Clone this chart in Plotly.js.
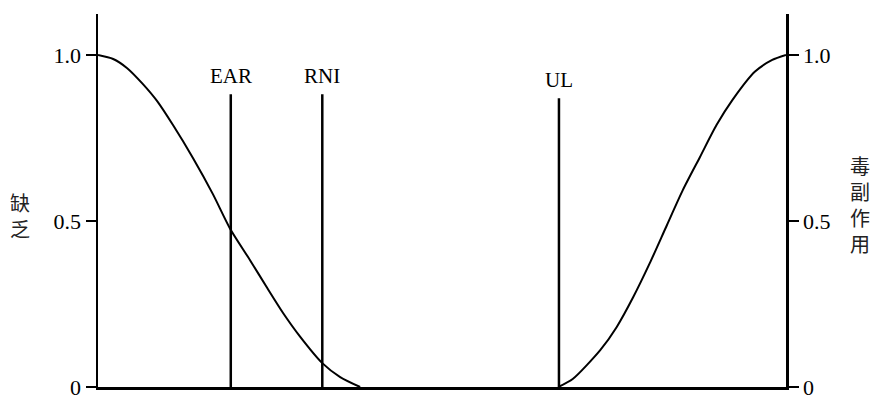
<!DOCTYPE html>
<html>
<head>
<meta charset="utf-8">
<script src="https://cdn.plot.ly/plotly-3.0.1.min.js"></script>
<style>html,body{margin:0;padding:0;background:#fff;}#chart{width:872px;height:395px;}</style>
</head>
<body>
<div id="chart"></div>
<script>
// Intake (arbitrary units, 0 = left axis, 100 = right axis)
const deficiencyX = [0, 2.2, 4.2, 6.5, 8.6, 10.9, 13.8, 16.7, 19.2, 22.1, 24.6, 26.9, 29.4, 32.6, 35.2, 38.1];
const deficiencyY = [1.0, 0.988, 0.961, 0.913, 0.861, 0.789, 0.690, 0.581, 0.477, 0.382, 0.298, 0.223, 0.151, 0.072, 0.030, 0.0];
const toxicityX = [66.9, 69.0, 73.0, 75.4, 77.8, 80.2, 82.7, 85.0, 87.5, 89.9, 92.2, 95.5, 98.0, 100];
const toxicityY = [0.0, 0.024, 0.111, 0.181, 0.271, 0.373, 0.488, 0.593, 0.693, 0.789, 0.864, 0.950, 0.985, 1.0];
const refNames = ['EAR', 'RNI', 'UL'];
const refX = [19.3, 32.6, 67.0];
const refTop = [0.882, 0.882, 0.870];
const refLabelY = [0.937, 0.937, 0.925];
const yTickVals = [0, 0.5, 1.0];
const yTickText = ['0', '0.5', '1.0'];
const leftTitle = '缺<br>乏';
const rightTitle = '毒<br>副<br>作<br>用';

const serif = '"Liberation Serif", "Times New Roman", serif';
const cjk = '"Noto Sans CJK SC", sans-serif';

const traces = [
  {x: deficiencyX, y: deficiencyY, mode: 'lines', line: {color: '#000', width: 2, shape: 'spline', smoothing: 0.7}, yaxis: 'y', cliponaxis: false, hoverinfo: 'skip'},
  {x: toxicityX, y: toxicityY, mode: 'lines', line: {color: '#000', width: 2, shape: 'spline', smoothing: 0.7}, yaxis: 'y2', cliponaxis: false, hoverinfo: 'skip'}
];
refNames.forEach((n, i) => {
  traces.push({x: [refX[i], refX[i]], y: [0, refTop[i]], mode: 'lines', line: {color: '#000', width: 2.5}, yaxis: 'y', hoverinfo: 'skip'});
});

const annotations = refNames.map((n, i) => ({
  x: refX[i], y: refLabelY[i], xref: 'x', yref: 'y', text: n, showarrow: false,
  xanchor: 'center', yanchor: 'middle', font: {family: serif, size: 21, color: '#000'}
}));
annotations.push({x: -0.113, y: 0.461, xref: 'paper', yref: 'paper', text: leftTitle, showarrow: false,
  xanchor: 'center', yanchor: 'middle', font: {family: cjk, size: 20, color: '#222'}});
annotations.push({x: 1.1076, y: 0.488, xref: 'paper', yref: 'paper', text: rightTitle, showarrow: false,
  xanchor: 'center', yanchor: 'middle', font: {family: cjk, size: 20, color: '#222'}});

const yCommon = {
  range: [0, 1.1235], tickvals: yTickVals, ticktext: yTickText, ticks: 'outside', ticklen: 10, tickwidth: 2.5,
  tickcolor: '#000', showline: true, linecolor: '#000', linewidth: 2.5, showgrid: false, zeroline: false,
  ticklabeloverflow: 'allow',
  tickfont: {family: serif, size: 22, color: '#000'}, fixedrange: true
};

const layout = {
  width: 872, height: 395,
  margin: {l: 98, r: 86, t: 14, b: 8},
  paper_bgcolor: '#fff', plot_bgcolor: '#fff',
  showlegend: false,
  xaxis: {range: [0, 100], showline: true, linecolor: '#000', linewidth: 2.5, showgrid: false, zeroline: false,
    showticklabels: false, ticks: '', fixedrange: true},
  yaxis: Object.assign({}, yCommon, {side: 'left'}),
  yaxis2: Object.assign({}, yCommon, {side: 'right', overlaying: 'y'}),
  annotations: annotations
};

Plotly.newPlot('chart', traces, layout, {staticPlot: true, displayModeBar: false});
</script>
</body>
</html>
